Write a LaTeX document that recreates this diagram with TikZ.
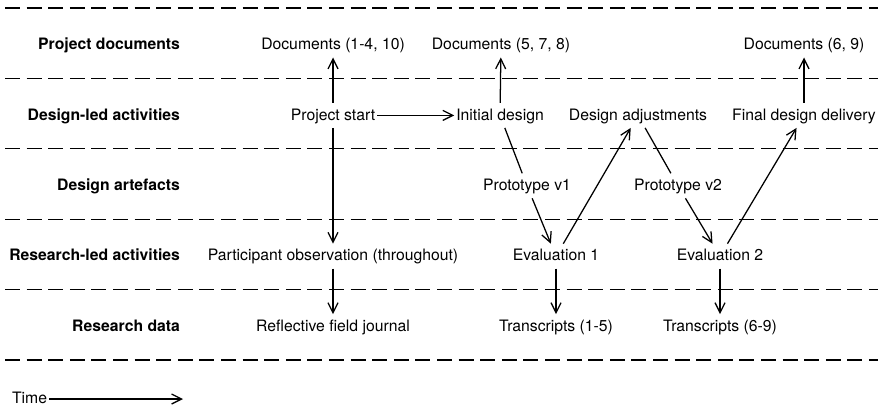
\documentclass[tikz,border=0pt]{standalone}
\usepackage{fontspec}
\setmainfont{TeX Gyre Heros}
\setsansfont{TeX Gyre Heros}
\usepackage{tikz}
\usetikzlibrary{calc}
\usetikzlibrary{arrows.meta}
\tikzset{>={Straight Barb[length=2.5mm,width=2.5mm]}}
\tikzset{item/.style={inner xsep=1pt,text height=1.6ex,text depth=.35ex}}
\tikzset{lane/.style={dash pattern=on 3.75mm off 1.65mm}}

\begin{document}
\begin{tikzpicture}[font=\fontsize{11.2}{13}\selectfont,line width=0.9pt]
	\useasboundingbox (0,0) rectangle (21.95,-10.2);
	% lanes
	\draw[lane] (0.125,-0.2) -- (21.95,-0.2);
	\draw[lane] (0.125,-1.96) -- (21.95,-1.96);
	\draw[lane] (0.125,-3.72) -- (21.95,-3.72);
	\draw[lane] (0.125,-5.48) -- (21.95,-5.48);
	\draw[lane] (0.125,-7.24) -- (21.95,-7.24);
	\draw[lane] (0.125,-9.0) -- (21.95,-9.0);
	\node[item,anchor=east] (lane docs) at (4.55,-1.125) {\bfseries Project documents};
	\node[item,anchor=east] (lane design) at (4.55,-2.885) {\bfseries Design-led activities};
	\node[item,anchor=east] (lane arte) at (4.55,-4.645) {\bfseries Design artefacts};
	\node[item,anchor=east] (lane research) at (4.55,-6.405) {\bfseries Research-led activities};
	\node[item,anchor=east] (lane data) at (4.55,-8.165) {\bfseries Research data};
	% project documents
	\node[item] (docs a) at (8.325,-1.125) {Documents (1-4, 10)};
	\node[item] (docs b) at (12.525,-1.125) {Documents (5, 7, 8)};
	\node[item] (docs c) at (20.1,-1.125) {Documents (6, 9)};
	% design-led
	\node[item] (start) at (8.325,-2.885) {Project start};
	\node[item] (initial) at (12.5,-2.885) {Initial design};
	\node[item] (adjust) at (15.95,-2.885) {Design adjustments};
	\node[item] (final) at (20.1,-2.885) {Final design delivery};
	% artefacts
	\node[item] (proto a) at (13.175,-4.645) {Prototype v1};
	\node[item] (proto b) at (16.95,-4.645) {Prototype v2};
	% research-led
	\node[item] (observe) at (8.325,-6.405) {Participant observation (throughout)};
	\node[item] (eval a) at (13.9,-6.405) {Evaluation 1};
	\node[item] (eval b) at (18.0,-6.405) {Evaluation 2};
	% data
	\node[item] (journal) at (8.325,-8.165) {Reflective field journal};
	\node[item] (trans a) at (13.9,-8.165) {Transcripts (1-5)};
	\node[item] (trans b) at (18.0,-8.165) {Transcripts (6-9)};
	\draw[->] (start)--(docs a);
	\draw[->] (start)--(initial);
	\draw[->] (start)--(observe);
	\draw[->] (observe)--(journal);
	\draw[->] (initial)--(docs b);
	\draw (initial)--(proto a);
	\draw[->] (proto a)--(eval a);
	\draw[->] (eval a)--(adjust);
	\draw[->] (eval a)--(trans a);
	\draw (adjust)--(proto b);
	\draw[->] (proto b)--(eval b);
	\draw[->] (eval b)--(final);
	\draw[->] (eval b)--(trans b);
	\draw[->] (final)--(docs c);
	% time
	\node[item,anchor=west] (time) at (0.25,-9.975) {Time};
	\coordinate (time end) at (4.575,-9.975);
	\draw[->] (time)--(time end);
\end{tikzpicture}
\end{document}
